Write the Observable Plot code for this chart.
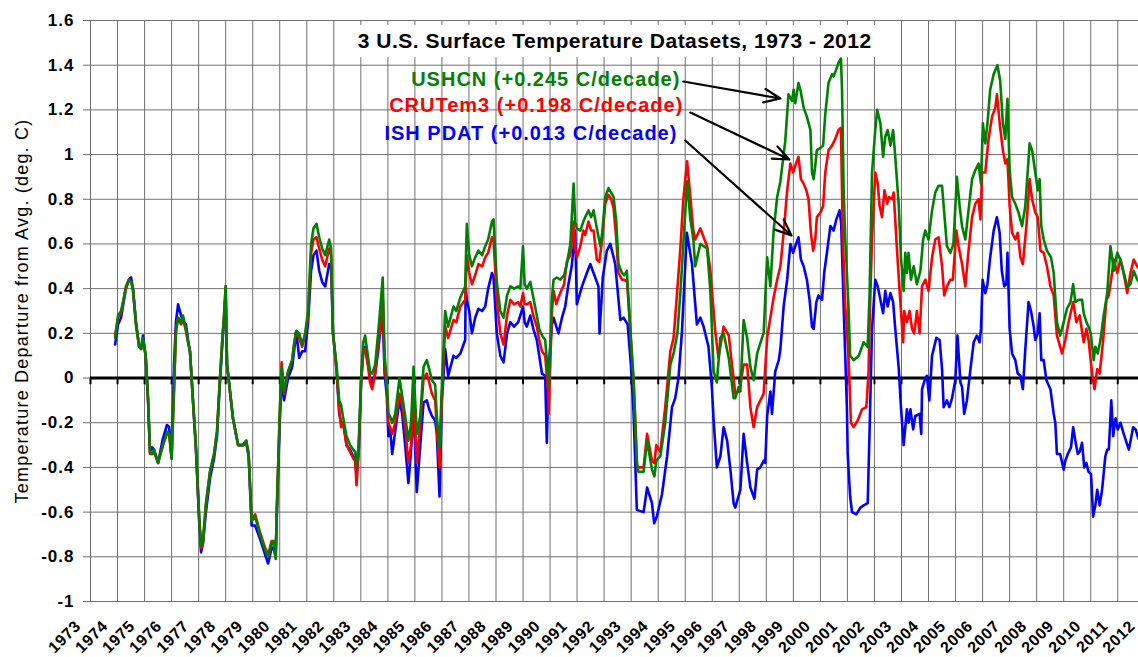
<!DOCTYPE html>
<html><head><meta charset="utf-8">
<script src="https://cdn.jsdelivr.net/npm/d3@7"></script>
<script src="https://cdn.jsdelivr.net/npm/@observablehq/plot@0.6"></script>
<style>
html,body{margin:0;padding:0;background:#fff;overflow:hidden;}
#chart svg{overflow:hidden;display:block;}
</style></head><body><div id="chart"></div>
<script>
// ---- categories / tick labels ----
const years = [1973,1974,1975,1976,1977,1978,1979,1980,1981,1982,1983,1984,1985,1986,1987,1988,1989,1990,1991,1992,1993,1994,1995,1996,1997,1998,1999,2000,2001,2002,2003,2004,2005,2006,2007,2008,2009,2010,2011,2012];
const yTicks = [-1,-0.8,-0.6,-0.4,-0.2,0,0.2,0.4,0.6,0.8,1,1.2,1.4,1.6];

// ---- series: [decimal year, departure deg C] ----
const ushcn = [
[1973.91,0.18],[1974.02,0.28],[1974.13,0.30],[1974.31,0.40],[1974.42,0.44],[1974.50,0.43],[1974.57,0.40],[1974.68,0.25],[1974.80,0.14],[1974.87,0.13],[1974.94,0.18],[1975.04,0.10],[1975.13,-0.10],[1975.20,-0.33],[1975.28,-0.34],[1975.35,-0.32],[1975.50,-0.38],[1975.68,-0.30],[1975.83,-0.24],[1975.91,-0.25],[1976.00,-0.36],[1976.09,-0.05],[1976.16,0.20],[1976.24,0.27],[1976.35,0.25],[1976.42,0.28],[1976.53,0.22],[1976.61,0.16],[1976.68,0.12],[1976.79,-0.10],[1976.90,-0.30],[1977.02,-0.62],[1977.09,-0.75],[1977.16,-0.73],[1977.27,-0.56],[1977.42,-0.42],[1977.57,-0.34],[1977.68,-0.24],[1977.76,-0.06],[1977.87,0.16],[1977.94,0.28],[1978.00,0.41],[1978.05,0.06],[1978.16,-0.06],[1978.27,-0.18],[1978.46,-0.30],[1978.64,-0.30],[1978.76,-0.28],[1978.85,-0.34],[1978.96,-0.64],[1979.09,-0.62],[1979.27,-0.70],[1979.46,-0.77],[1979.57,-0.80],[1979.70,-0.74],[1979.77,-0.73],[1979.85,-0.81],[1979.90,-0.56],[1980.00,-0.16],[1980.07,0.05],[1980.16,-0.06],[1980.31,0.03],[1980.46,0.08],[1980.53,0.15],[1980.61,0.21],[1980.72,0.20],[1980.83,0.15],[1980.94,0.20],[1981.05,0.30],[1981.16,0.60],[1981.25,0.67],[1981.36,0.69],[1981.46,0.63],[1981.57,0.58],[1981.68,0.55],[1981.83,0.62],[1981.90,0.58],[1981.97,0.20],[1982.10,0.06],[1982.20,-0.10],[1982.27,-0.12],[1982.35,-0.18],[1982.47,-0.26],[1982.60,-0.30],[1982.72,-0.32],[1982.79,-0.33],[1982.84,-0.40],[1982.92,-0.30],[1983.01,0.00],[1983.09,0.16],[1983.16,0.19],[1983.27,0.09],[1983.34,0.03],[1983.42,0.02],[1983.53,0.06],[1983.64,0.20],[1983.71,0.30],[1983.81,0.45],[1983.88,0.10],[1983.96,-0.01],[1984.02,-0.16],[1984.08,-0.17],[1984.16,-0.20],[1984.27,-0.16],[1984.43,0.00],[1984.53,-0.08],[1984.64,-0.17],[1984.76,-0.28],[1984.86,-0.20],[1984.95,0.05],[1985.07,-0.25],[1985.20,-0.17],[1985.32,0.05],[1985.44,0.08],[1985.53,0.04],[1985.63,-0.01],[1985.75,-0.03],[1985.81,-0.17],[1985.91,-0.31],[1986.00,-0.03],[1986.12,0.30],[1986.23,0.23],[1986.43,0.32],[1986.53,0.30],[1986.68,0.36],[1986.86,0.41],[1986.92,0.69],[1987.01,0.55],[1987.11,0.50],[1987.23,0.54],[1987.35,0.57],[1987.49,0.55],[1987.60,0.59],[1987.71,0.62],[1987.85,0.70],[1987.91,0.71],[1988.03,0.43],[1988.16,0.30],[1988.28,0.27],[1988.41,0.37],[1988.53,0.41],[1988.67,0.40],[1988.82,0.41],[1988.90,0.40],[1989.00,0.59],[1989.06,0.42],[1989.14,0.40],[1989.27,0.43],[1989.38,0.36],[1989.51,0.28],[1989.60,0.22],[1989.70,0.19],[1989.82,0.17],[1989.92,0.02],[1989.95,-0.04],[1990.07,0.36],[1990.13,0.44],[1990.25,0.45],[1990.38,0.44],[1990.52,0.46],[1990.62,0.51],[1990.75,0.60],[1990.87,0.87],[1990.93,0.70],[1990.99,0.67],[1991.12,0.66],[1991.23,0.70],[1991.30,0.72],[1991.42,0.75],[1991.52,0.72],[1991.61,0.75],[1991.73,0.67],[1991.86,0.59],[1991.93,0.65],[1992.04,0.81],[1992.16,0.85],[1992.26,0.83],[1992.35,0.81],[1992.45,0.70],[1992.53,0.51],[1992.66,0.47],[1992.75,0.46],[1992.84,0.48],[1992.97,0.21],[1993.09,-0.01],[1993.21,-0.38],[1993.27,-0.42],[1993.46,-0.42],[1993.59,-0.28],[1993.77,-0.41],[1993.86,-0.44],[1993.93,-0.37],[1994.08,-0.35],[1994.26,-0.20],[1994.45,0.06],[1994.57,0.11],[1994.71,0.20],[1994.82,0.38],[1994.93,0.60],[1995.07,0.88],[1995.19,0.71],[1995.30,0.62],[1995.37,0.50],[1995.56,0.60],[1995.68,0.59],[1995.81,0.58],[1995.93,0.39],[1996.05,0.03],[1996.17,-0.02],[1996.30,0.18],[1996.42,0.20],[1996.61,0.09],[1996.79,-0.09],[1996.85,-0.09],[1996.98,-0.04],[1997.04,-0.06],[1997.16,0.26],[1997.29,0.18],[1997.41,0.05],[1997.53,-0.01],[1997.66,0.11],[1997.84,0.18],[1997.90,0.20],[1998.03,0.54],[1998.15,0.41],[1998.27,0.66],[1998.40,0.81],[1998.52,0.88],[1998.70,1.06],[1998.82,1.27],[1998.95,1.24],[1999.01,1.29],[1999.07,1.23],[1999.19,1.32],[1999.26,1.29],[1999.38,1.21],[1999.50,1.17],[1999.63,1.11],[1999.69,0.92],[1999.75,0.89],[1999.81,0.95],[1999.87,1.02],[2000.00,1.03],[2000.10,1.04],[2000.18,1.18],[2000.30,1.32],[2000.43,1.36],[2000.49,1.35],[2000.55,1.37],[2000.67,1.41],[2000.76,1.43],[2000.80,1.29],[2000.86,0.84],[2000.92,0.62],[2001.04,0.32],[2001.10,0.10],[2001.23,0.08],[2001.42,0.10],[2001.60,0.16],[2001.75,0.14],[2001.82,0.38],[2001.91,0.92],[2002.03,1.11],[2002.10,1.20],[2002.22,1.14],[2002.32,0.99],[2002.40,1.08],[2002.49,1.11],[2002.59,1.04],[2002.69,1.11],[2002.77,0.99],[2002.90,0.77],[2002.98,0.54],[2003.08,0.39],[2003.14,0.56],[2003.20,0.47],[2003.26,0.56],[2003.35,0.44],[2003.45,0.50],[2003.57,0.42],[2003.70,0.48],[2003.80,0.62],[2003.88,0.66],[2004.00,0.62],[2004.13,0.75],[2004.25,0.83],[2004.37,0.86],[2004.50,0.86],[2004.58,0.74],[2004.68,0.59],[2004.81,0.56],[2004.92,0.60],[2005.05,0.90],[2005.15,0.77],[2005.24,0.68],[2005.36,0.62],[2005.48,0.75],[2005.61,0.89],[2005.73,0.93],[2005.85,0.96],[2005.94,0.87],[2006.01,1.14],[2006.10,1.05],[2006.18,1.14],[2006.28,1.29],[2006.41,1.36],[2006.55,1.40],[2006.65,1.33],[2006.75,1.14],[2006.84,1.07],[2006.92,1.25],[2007.00,0.93],[2007.09,0.81],[2007.21,0.78],[2007.33,0.74],[2007.46,0.68],[2007.58,0.77],[2007.74,1.05],[2007.83,1.02],[2007.95,0.92],[2008.04,0.84],[2008.11,0.89],[2008.17,0.68],[2008.26,0.62],[2008.38,0.57],[2008.53,0.54],[2008.63,0.47],[2008.75,0.25],[2008.87,0.19],[2009.00,0.25],[2009.12,0.31],[2009.25,0.34],[2009.35,0.42],[2009.43,0.34],[2009.55,0.35],[2009.68,0.35],[2009.74,0.29],[2009.84,0.25],[2009.92,0.23],[2010.00,0.20],[2010.11,0.08],[2010.17,0.14],[2010.26,0.11],[2010.36,0.17],[2010.48,0.28],[2010.61,0.38],[2010.73,0.59],[2010.79,0.54],[2010.85,0.48],[2010.98,0.56],[2011.10,0.53],[2011.22,0.47],[2011.35,0.41],[2011.47,0.42],[2011.59,0.48],[2011.72,0.44],[2011.79,0.43]
];
const crutem3 = [
[1973.91,0.19],[1974.02,0.27],[1974.13,0.29],[1974.31,0.41],[1974.42,0.44],[1974.50,0.43],[1974.57,0.40],[1974.68,0.24],[1974.80,0.14],[1974.87,0.13],[1974.94,0.17],[1975.04,0.10],[1975.13,-0.10],[1975.20,-0.34],[1975.28,-0.34],[1975.35,-0.33],[1975.50,-0.38],[1975.68,-0.30],[1975.83,-0.25],[1975.91,-0.25],[1976.00,-0.36],[1976.09,-0.05],[1976.16,0.22],[1976.24,0.27],[1976.35,0.24],[1976.42,0.27],[1976.53,0.21],[1976.61,0.16],[1976.68,0.12],[1976.79,-0.10],[1976.90,-0.31],[1977.02,-0.63],[1977.09,-0.76],[1977.16,-0.74],[1977.27,-0.57],[1977.42,-0.42],[1977.57,-0.34],[1977.68,-0.24],[1977.76,-0.06],[1977.87,0.16],[1977.94,0.28],[1978.00,0.41],[1978.05,0.06],[1978.16,-0.06],[1978.27,-0.18],[1978.46,-0.30],[1978.64,-0.30],[1978.76,-0.28],[1978.85,-0.34],[1978.96,-0.64],[1979.09,-0.61],[1979.27,-0.69],[1979.46,-0.76],[1979.57,-0.79],[1979.70,-0.73],[1979.77,-0.73],[1979.85,-0.79],[1979.90,-0.56],[1980.00,-0.16],[1980.07,0.07],[1980.16,-0.07],[1980.31,0.03],[1980.46,0.08],[1980.53,0.15],[1980.61,0.21],[1980.72,0.18],[1980.83,0.14],[1980.94,0.19],[1981.05,0.28],[1981.16,0.56],[1981.25,0.62],[1981.36,0.63],[1981.46,0.58],[1981.57,0.53],[1981.68,0.50],[1981.83,0.58],[1981.90,0.55],[1981.97,0.20],[1982.10,0.04],[1982.20,-0.14],[1982.27,-0.22],[1982.35,-0.20],[1982.47,-0.30],[1982.60,-0.33],[1982.72,-0.36],[1982.79,-0.37],[1982.84,-0.48],[1982.92,-0.33],[1983.01,-0.02],[1983.09,0.12],[1983.16,0.13],[1983.27,0.05],[1983.34,-0.02],[1983.42,-0.05],[1983.53,0.02],[1983.64,0.15],[1983.71,0.22],[1983.81,0.36],[1983.88,0.05],[1983.96,-0.04],[1984.02,-0.20],[1984.08,-0.22],[1984.16,-0.25],[1984.27,-0.20],[1984.43,-0.07],[1984.53,-0.12],[1984.64,-0.22],[1984.76,-0.38],[1984.86,-0.30],[1984.95,-0.04],[1985.07,-0.38],[1985.20,-0.20],[1985.32,0.00],[1985.44,0.02],[1985.53,-0.02],[1985.63,-0.07],[1985.75,-0.10],[1985.81,-0.22],[1985.91,-0.40],[1986.00,-0.08],[1986.12,0.23],[1986.23,0.18],[1986.43,0.26],[1986.53,0.25],[1986.68,0.32],[1986.86,0.35],[1986.92,0.55],[1987.01,0.47],[1987.11,0.42],[1987.23,0.46],[1987.35,0.51],[1987.49,0.50],[1987.60,0.54],[1987.71,0.56],[1987.85,0.63],[1987.91,0.62],[1988.03,0.35],[1988.16,0.20],[1988.28,0.15],[1988.41,0.28],[1988.53,0.35],[1988.67,0.33],[1988.82,0.34],[1988.90,0.32],[1989.00,0.38],[1989.06,0.33],[1989.14,0.33],[1989.27,0.34],[1989.38,0.28],[1989.51,0.23],[1989.60,0.17],[1989.70,0.12],[1989.82,0.10],[1989.92,-0.05],[1989.95,-0.16],[1990.07,0.30],[1990.13,0.39],[1990.23,0.33],[1990.31,0.36],[1990.41,0.39],[1990.52,0.42],[1990.62,0.52],[1990.75,0.55],[1990.87,0.70],[1990.93,0.58],[1990.99,0.54],[1991.12,0.59],[1991.23,0.66],[1991.30,0.64],[1991.42,0.70],[1991.52,0.66],[1991.61,0.66],[1991.73,0.53],[1991.82,0.52],[1991.93,0.62],[1992.04,0.78],[1992.16,0.82],[1992.26,0.80],[1992.35,0.76],[1992.45,0.62],[1992.53,0.47],[1992.66,0.44],[1992.75,0.44],[1992.85,0.43],[1992.97,0.21],[1993.09,-0.01],[1993.22,-0.40],[1993.27,-0.40],[1993.46,-0.40],[1993.59,-0.25],[1993.77,-0.37],[1993.86,-0.38],[1993.93,-0.30],[1994.08,-0.33],[1994.26,-0.13],[1994.45,0.12],[1994.57,0.18],[1994.71,0.40],[1994.82,0.58],[1994.93,0.80],[1995.07,0.97],[1995.19,0.81],[1995.30,0.66],[1995.37,0.62],[1995.56,0.67],[1995.68,0.63],[1995.81,0.59],[1995.93,0.48],[1996.11,0.21],[1996.23,0.09],[1996.42,0.23],[1996.61,0.19],[1996.85,-0.07],[1996.98,-0.06],[1997.04,-0.03],[1997.16,0.06],[1997.29,0.06],[1997.41,-0.13],[1997.53,-0.22],[1997.66,-0.13],[1997.78,-0.10],[1997.90,-0.07],[1998.03,0.18],[1998.15,0.27],[1998.27,0.36],[1998.40,0.44],[1998.52,0.50],[1998.64,0.65],[1998.77,0.84],[1998.89,0.96],[1998.99,0.92],[1999.07,0.95],[1999.19,0.99],[1999.28,0.89],[1999.38,0.87],[1999.48,0.84],[1999.56,0.80],[1999.65,0.65],[1999.73,0.57],[1999.81,0.62],[1999.87,0.72],[2000.00,0.74],[2000.10,0.77],[2000.18,0.92],[2000.30,1.02],[2000.43,1.04],[2000.55,1.07],[2000.67,1.11],[2000.76,1.12],[2000.83,0.62],[2000.92,0.32],[2001.04,0.10],[2001.13,-0.20],[2001.23,-0.22],[2001.38,-0.19],[2001.54,-0.14],[2001.70,-0.13],[2001.78,0.02],[2001.82,0.25],[2001.91,0.62],[2002.03,0.92],[2002.12,0.87],[2002.19,0.77],[2002.28,0.72],[2002.37,0.84],[2002.47,0.78],[2002.54,0.81],[2002.65,0.80],[2002.71,0.83],[2002.84,0.56],[2002.93,0.39],[2003.06,0.16],[2003.10,0.30],[2003.20,0.25],[2003.30,0.30],[2003.39,0.22],[2003.47,0.20],[2003.57,0.30],[2003.67,0.20],[2003.76,0.41],[2003.88,0.44],[2004.00,0.39],[2004.13,0.54],[2004.25,0.62],[2004.37,0.63],[2004.50,0.50],[2004.58,0.37],[2004.68,0.41],[2004.81,0.44],[2004.90,0.44],[2005.03,0.66],[2005.11,0.59],[2005.24,0.51],[2005.36,0.41],[2005.48,0.57],[2005.61,0.72],[2005.73,0.78],[2005.85,0.80],[2005.92,0.71],[2005.98,0.92],[2006.10,0.92],[2006.22,1.07],[2006.35,1.17],[2006.47,1.21],[2006.53,1.27],[2006.65,1.12],[2006.75,1.02],[2006.84,0.96],[2006.92,0.98],[2007.00,0.77],[2007.09,0.65],[2007.21,0.62],[2007.30,0.65],[2007.40,0.54],[2007.49,0.51],[2007.62,0.68],[2007.74,0.89],[2007.83,0.80],[2007.95,0.74],[2008.04,0.72],[2008.14,0.57],[2008.26,0.56],[2008.38,0.50],[2008.51,0.41],[2008.63,0.37],[2008.75,0.19],[2008.94,0.11],[2009.06,0.17],[2009.18,0.25],[2009.35,0.34],[2009.47,0.25],[2009.59,0.28],[2009.74,0.16],[2009.84,0.22],[2009.92,0.17],[2010.05,0.02],[2010.14,-0.05],[2010.24,0.04],[2010.33,0.02],[2010.46,0.17],[2010.58,0.35],[2010.67,0.37],[2010.79,0.47],[2010.85,0.53],[2010.98,0.47],[2011.10,0.53],[2011.22,0.47],[2011.35,0.38],[2011.47,0.47],[2011.59,0.53],[2011.72,0.50],[2011.79,0.49]
];
const ishPdat = [
[1973.91,0.15],[1974.02,0.24],[1974.13,0.27],[1974.31,0.40],[1974.42,0.44],[1974.50,0.45],[1974.57,0.40],[1974.68,0.25],[1974.80,0.14],[1974.87,0.13],[1974.94,0.19],[1975.04,0.10],[1975.13,-0.10],[1975.20,-0.33],[1975.28,-0.31],[1975.35,-0.32],[1975.50,-0.38],[1975.68,-0.27],[1975.83,-0.21],[1975.91,-0.22],[1976.00,-0.36],[1976.09,0.06],[1976.16,0.25],[1976.24,0.33],[1976.35,0.28],[1976.42,0.25],[1976.53,0.24],[1976.61,0.17],[1976.68,0.12],[1976.79,-0.10],[1976.90,-0.32],[1977.02,-0.64],[1977.09,-0.78],[1977.16,-0.74],[1977.27,-0.60],[1977.42,-0.45],[1977.57,-0.36],[1977.68,-0.26],[1977.76,-0.08],[1977.87,0.14],[1977.94,0.26],[1978.00,0.38],[1978.05,0.06],[1978.16,-0.06],[1978.27,-0.18],[1978.46,-0.30],[1978.64,-0.30],[1978.76,-0.29],[1978.85,-0.35],[1978.96,-0.66],[1979.09,-0.66],[1979.27,-0.72],[1979.46,-0.79],[1979.57,-0.83],[1979.70,-0.76],[1979.77,-0.76],[1979.85,-0.80],[1979.90,-0.58],[1980.00,-0.20],[1980.07,0.00],[1980.16,-0.10],[1980.31,0.00],[1980.46,0.05],[1980.53,0.12],[1980.61,0.21],[1980.72,0.09],[1980.83,0.12],[1980.94,0.12],[1981.05,0.25],[1981.16,0.48],[1981.25,0.55],[1981.36,0.57],[1981.46,0.48],[1981.57,0.43],[1981.68,0.41],[1981.83,0.51],[1981.90,0.50],[1981.97,0.20],[1982.10,0.04],[1982.20,-0.16],[1982.27,-0.20],[1982.35,-0.20],[1982.47,-0.30],[1982.60,-0.32],[1982.72,-0.35],[1982.79,-0.36],[1982.84,-0.44],[1982.92,-0.33],[1983.01,-0.02],[1983.09,0.12],[1983.16,0.14],[1983.27,0.06],[1983.34,0.00],[1983.42,-0.03],[1983.53,0.02],[1983.64,0.12],[1983.71,0.20],[1983.81,0.28],[1983.88,0.02],[1983.96,-0.08],[1984.02,-0.26],[1984.08,-0.22],[1984.16,-0.34],[1984.27,-0.24],[1984.43,-0.10],[1984.53,-0.16],[1984.64,-0.30],[1984.76,-0.47],[1984.86,-0.32],[1984.95,-0.13],[1985.07,-0.51],[1985.20,-0.30],[1985.32,-0.11],[1985.44,-0.10],[1985.53,-0.14],[1985.63,-0.17],[1985.75,-0.19],[1985.81,-0.25],[1985.91,-0.53],[1986.00,-0.10],[1986.12,0.13],[1986.23,0.01],[1986.43,0.10],[1986.53,0.09],[1986.68,0.11],[1986.86,0.17],[1986.88,0.41],[1986.92,0.35],[1987.01,0.30],[1987.11,0.20],[1987.23,0.27],[1987.35,0.31],[1987.49,0.30],[1987.60,0.32],[1987.71,0.40],[1987.85,0.47],[1987.91,0.45],[1988.03,0.20],[1988.16,0.10],[1988.28,0.07],[1988.41,0.20],[1988.53,0.25],[1988.67,0.23],[1988.82,0.25],[1988.90,0.28],[1989.00,0.32],[1989.06,0.25],[1989.14,0.23],[1989.27,0.28],[1989.38,0.22],[1989.51,0.17],[1989.60,0.10],[1989.70,0.02],[1989.82,0.01],[1989.88,-0.29],[1989.95,0.05],[1990.07,0.24],[1990.13,0.27],[1990.31,0.20],[1990.44,0.27],[1990.56,0.32],[1990.68,0.42],[1990.80,0.50],[1990.93,0.66],[1990.99,0.33],[1991.18,0.41],[1991.36,0.47],[1991.49,0.51],[1991.61,0.47],[1991.79,0.41],[1991.83,0.20],[1991.95,0.45],[1992.10,0.57],[1992.23,0.60],[1992.41,0.51],[1992.60,0.26],[1992.72,0.27],[1992.87,0.24],[1992.99,0.06],[1993.09,-0.16],[1993.21,-0.59],[1993.46,-0.60],[1993.59,-0.49],[1993.77,-0.56],[1993.85,-0.65],[1993.95,-0.62],[1994.14,-0.52],[1994.33,-0.35],[1994.51,-0.13],[1994.63,-0.09],[1994.75,0.00],[1994.88,0.21],[1995.06,0.65],[1995.25,0.51],[1995.43,0.24],[1995.56,0.27],[1995.68,0.23],[1995.86,0.14],[1995.99,-0.05],[1996.05,-0.19],[1996.17,-0.40],[1996.30,-0.35],[1996.42,-0.22],[1996.55,-0.28],[1996.67,-0.41],[1996.79,-0.56],[1996.85,-0.58],[1996.97,-0.53],[1997.04,-0.50],[1997.16,-0.25],[1997.29,-0.38],[1997.41,-0.49],[1997.56,-0.54],[1997.66,-0.41],[1997.78,-0.40],[1997.90,-0.37],[1997.96,-0.38],[1998.03,-0.17],[1998.15,-0.06],[1998.21,-0.16],[1998.33,0.03],[1998.46,0.08],[1998.52,0.13],[1998.64,0.32],[1998.77,0.44],[1998.89,0.60],[1998.99,0.56],[1999.07,0.59],[1999.19,0.63],[1999.28,0.53],[1999.38,0.50],[1999.50,0.44],[1999.60,0.35],[1999.69,0.23],[1999.75,0.22],[1999.85,0.34],[1999.93,0.37],[2000.06,0.35],[2000.14,0.47],[2000.24,0.56],[2000.37,0.68],[2000.49,0.66],[2000.59,0.71],[2000.71,0.75],[2000.77,0.69],[2000.86,0.32],[2000.98,-0.13],[2001.01,-0.34],[2001.10,-0.53],[2001.17,-0.60],[2001.33,-0.61],[2001.48,-0.58],[2001.60,-0.57],[2001.75,-0.56],[2001.82,-0.23],[2001.91,0.22],[2002.03,0.44],[2002.12,0.41],[2002.22,0.35],[2002.32,0.29],[2002.40,0.39],[2002.49,0.32],[2002.59,0.38],[2002.69,0.34],[2002.77,0.22],[2002.90,0.04],[2002.98,-0.13],[2003.08,-0.30],[2003.20,-0.14],[2003.26,-0.20],[2003.33,-0.14],[2003.43,-0.23],[2003.51,-0.17],[2003.67,-0.16],[2003.73,-0.25],[2003.76,-0.05],[2003.88,0.00],[2003.94,0.01],[2004.03,-0.10],[2004.13,0.10],[2004.29,0.18],[2004.41,0.17],[2004.50,0.04],[2004.56,-0.13],[2004.68,-0.10],[2004.77,-0.13],[2004.87,-0.09],[2004.99,-0.01],[2005.07,0.19],[2005.18,-0.02],[2005.24,-0.04],[2005.32,-0.16],[2005.42,-0.10],[2005.55,0.04],[2005.67,0.16],[2005.79,0.19],[2005.89,0.16],[2005.94,0.22],[2006.00,0.44],[2006.10,0.38],[2006.18,0.42],[2006.28,0.54],[2006.41,0.66],[2006.53,0.72],[2006.63,0.65],[2006.71,0.48],[2006.80,0.41],[2006.88,0.42],[2006.92,0.56],[2007.00,0.22],[2007.09,0.11],[2007.21,0.08],[2007.30,0.02],[2007.40,0.01],[2007.49,-0.05],[2007.58,0.13],[2007.70,0.34],[2007.79,0.30],[2007.89,0.23],[2007.95,0.17],[2008.04,0.20],[2008.11,0.29],[2008.17,0.08],[2008.26,0.08],[2008.36,-0.01],[2008.51,-0.05],[2008.63,-0.16],[2008.69,-0.20],[2008.75,-0.34],[2008.87,-0.34],[2009.00,-0.41],[2009.06,-0.37],[2009.15,-0.34],[2009.27,-0.31],[2009.35,-0.22],[2009.43,-0.28],[2009.52,-0.34],[2009.59,-0.33],[2009.68,-0.29],[2009.76,-0.40],[2009.84,-0.38],[2009.92,-0.42],[2010.01,-0.43],[2010.09,-0.62],[2010.17,-0.57],[2010.24,-0.50],[2010.33,-0.57],[2010.42,-0.50],[2010.54,-0.35],[2010.61,-0.32],[2010.67,-0.32],[2010.76,-0.10],[2010.83,-0.26],[2010.92,-0.18],[2011.00,-0.23],[2011.10,-0.20],[2011.22,-0.25],[2011.41,-0.32],[2011.57,-0.22],[2011.66,-0.23],[2011.76,-0.27]
];

// ---- text & annotations ----
const titleText = "3 U.S. Surface Temperature Datasets, 1973 - 2012";
const yTitle = "Temperature Departure from Avg. (deg. C)";
const legendLabels = ["USHCN (+0.245 C/decade)", "CRUTem3 (+0.198 C/decade)", "ISH PDAT (+0.013 C/decade)"];
const legendColors = ["#008000", "#ff0000", "#0000ff"];
const legendAnchorX = [1994.82, 1994.93, 1994.71];
const legendAnchorY = [1.309, 1.190, 1.063];
const arrowFromX = [1994.93, 1995.19, 1995.00];
const arrowFromY = [1.327, 1.188, 1.063];
const arrowToX = [1998.52, 1998.85, 1998.93];
const arrowToY = [1.251, 0.978, 0.638];
const titleAnchor = [1992.39, 1.475];
const titleBox = {x1: 1982.68, x2: 2002.07, y1: 1.434, y2: 1.578};

const legend = legendLabels.map((label, i) => ({label, color: legendColors[i], x: legendAnchorX[i], y: legendAnchorY[i]}));
const arrows = arrowFromX.map((x1, i) => ({x1, y1: arrowFromY[i], x2: arrowToX[i], y2: arrowToY[i]}));

const FONT = "'Liberation Sans', Arial, Helvetica, sans-serif";
const X = d => d[0], Y = d => d[1];

const chart = Plot.plot({
  width: 1138,
  height: 657,
  marginLeft: 90,
  marginRight: 0,
  marginTop: 20,
  marginBottom: 56,
  style: {fontFamily: FONT, background: "#fff", color: "#000"},
  x: {domain: [1973, 2012], range: [90, 1144.3], axis: null},
  y: {domain: [-1, 1.6], range: [601, 20], axis: null},
  marks: [
    Plot.gridX(years, {stroke: "#707070", strokeOpacity: 1, strokeWidth: 1}),
    Plot.gridY(yTicks, {stroke: "#707070", strokeOpacity: 1, strokeWidth: 1}),
    Plot.rect([titleBox], {x1: "x1", x2: "x2", y1: "y1", y2: "y2", fill: "#fff"}),
    Plot.ruleY([0], {stroke: "#000", strokeWidth: 3}),
    Plot.ruleX(years, {x: d => d, y1: 0, y2: -0.03, stroke: "#000", strokeWidth: 2}),
    Plot.axisY(yTicks, {tickSize: 7, tickPadding: 9, stroke: "#707070", fontSize: 17, fontWeight: "bold", tickFormat: d => String(Math.round(d * 10) / 10)}),
    Plot.axisX(years, {tickSize: 0, tickPadding: 22, tickRotate: -45, dx: -12.5, fontSize: 16, fontWeight: "bold", tickFormat: d => String(d)}),
    Plot.text([yTitle], {frameAnchor: "left", dx: -68, rotate: -90, textAnchor: "middle", fontSize: 18}),
    Plot.line(ishPdat, {x: X, y: Y, stroke: "#0000ff", strokeWidth: 2.6, strokeLinejoin: "round"}),
    Plot.line(crutem3, {x: X, y: Y, stroke: "#ff0000", strokeWidth: 2.6, strokeLinejoin: "round"}),
    Plot.line(ushcn, {x: X, y: Y, stroke: "#008000", strokeWidth: 2.6, strokeLinejoin: "round"}),
    Plot.arrow(arrows, {x1: "x1", y1: "y1", x2: "x2", y2: "y2", stroke: "#000", strokeWidth: 2.2, headLength: 12, headAngle: 45}),
    Plot.text([titleText], {x: titleAnchor[0], y: titleAnchor[1], fontSize: 21, fontWeight: "bold", lineAnchor: "bottom", fill: "#000"}),
    Plot.text(legend, {x: "x", y: "y", text: "label", fill: "color", fontSize: 20, fontWeight: "bold", textAnchor: "end", lineAnchor: "bottom"})
  ]
});
document.getElementById("chart").appendChild(chart);
// letter spacing to mimic the wider GDI text rendering of the original
const spacing = {"21": "0.5px", "20": "1px", "18": "1.2px", "17": "1px", "16": "0.6px"};
d3.select(chart).selectAll("text").each(function() {
  let el = this, fs = null;
  while (el && el !== chart && !fs) { fs = el.getAttribute && el.getAttribute("font-size"); el = el.parentNode; }
  if (fs && spacing[String(parseFloat(fs))]) this.style.letterSpacing = spacing[String(parseFloat(fs))];
});
</script></body></html>
